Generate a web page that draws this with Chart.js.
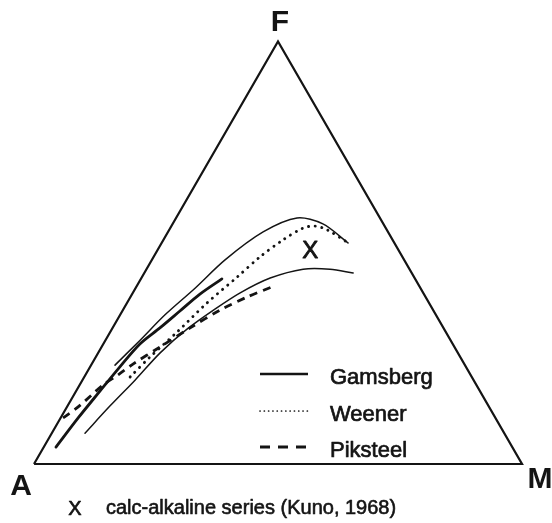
<!DOCTYPE html>
<html>
<head>
<meta charset="utf-8">
<script src="https://cdn.jsdelivr.net/npm/chart.js@4/dist/chart.umd.min.js"></script>
<style>
  html, body { margin: 0; padding: 0; background: #fff; }
  #afm { display: block; }
</style>
</head>
<body>
<canvas id="afm" width="552" height="523"></canvas>
<script>
// AFM ternary diagram: values are F and M percent (A = 100 - F - M)
const vertexLabels = ['A', 'F', 'M'];
const seriesNames = ['Gamsberg', 'Weener', 'Piksteel'];
const kunoNote = 'calc-alkaline series (Kuno, 1968)';

const gamsbergF = [4.0, 10.9, 17.3, 23.0, 28.4, 32.2, 36.2, 40.2, 43.8];
const gamsbergM = [2.5, 3.6, 4.9, 6.1, 7.5, 9.7, 11.8, 13.9, 16.6];

const weenerF = [20.6, 25.3, 31.2, 38.1, 44.2, 49.0, 53.0, 55.8, 56.3, 55.4, 52.5];
const weenerM = [9.4, 11.1, 13.7, 16.4, 19.5, 21.8, 24.5, 27.2, 29.4, 32.4, 37.9];

const piksteelF = [10.9, 13.5, 18.7, 21.1, 23.7, 27.7, 32.2, 36.4, 39.5, 41.9];
const piksteelM = [0.5, 2.3, 4.8, 6.7, 8.5, 12.0, 15.9, 19.9, 23.9, 27.8];

// envelope of the calc-alkaline field
const kunoUpperF = [23.4, 29.3, 35.3, 41.6, 48.3, 54.9, 58.2, 56.8, 52.3];
const kunoUpperM = [4.9, 7.1, 9.2, 12.2, 15.0, 19.5, 24.8, 30.8, 38.2];
const kunoLowerF = [7.3, 13.7, 19.9, 26.3, 31.9, 36.7, 40.5, 44.0, 46.1, 46.1, 45.2];
const kunoLowerM = [6.8, 8.7, 10.8, 12.7, 15.4, 18.8, 22.0, 26.4, 32.1, 37.6, 42.8];

const kunoPointF = [50.4];
const kunoPointM = [31.4];

const H = Math.sqrt(3) / 2;
function toXY(fArr, mArr) {
  return fArr.map((f, i) => ({ x: mArr[i] + f / 2, y: f * H }));
}

const ink = '#141414';
const triangle = [{ x: 0, y: 0 }, { x: 100, y: 0 }, { x: 50, y: 100 * H }, { x: 0, y: 0 }];

// filled text with a thin outline, to get the heavier look of the print
function inkText(ctx, text, x, y, weight) {
  ctx.fillText(text, x, y);
  if (weight) {
    ctx.lineWidth = weight;
    ctx.strokeText(text, x, y);
  }
}

const afmLabels = {
  id: 'afmLabels',
  afterDatasetsDraw(chart) {
    const { ctx, scales: { x, y } } = chart;
    ctx.save();
    ctx.fillStyle = ink;
    ctx.strokeStyle = ink;
    ctx.lineJoin = 'round';
    ctx.textBaseline = 'middle';
    ctx.textAlign = 'center';

    // corner letters
    ctx.font = 'bold 30px "Liberation Sans", Arial, sans-serif';
    inkText(ctx, vertexLabels[0], x.getPixelForValue(0) - 13, y.getPixelForValue(0) + 23);
    inkText(ctx, vertexLabels[1], x.getPixelForValue(50) + 2, y.getPixelForValue(100 * H) - 19);
    inkText(ctx, vertexLabels[2], x.getPixelForValue(100) + 18, y.getPixelForValue(0) + 16);

    // Kuno marker
    ctx.font = '24px "Liberation Sans", Arial, sans-serif';
    toXY(kunoPointF, kunoPointM).forEach(p => {
      inkText(ctx, 'X', x.getPixelForValue(p.x), y.getPixelForValue(p.y), 0.9);
    });

    // legend samples
    const styles = [
      { dash: [], width: 2.4, cap: 'butt' },
      { dash: [0.1, 4.2], width: 1.7, cap: 'round' },
      { dash: [10, 8], width: 2.8, cap: 'butt' }
    ];
    const rows = [374, 411, 447];
    ctx.textAlign = 'left';
    ctx.font = '22px "Liberation Sans", Arial, sans-serif';
    seriesNames.forEach((name, i) => {
      ctx.beginPath();
      ctx.setLineDash(styles[i].dash);
      ctx.lineWidth = styles[i].width;
      ctx.lineCap = styles[i].cap;
      ctx.moveTo(260, rows[i]);
      ctx.lineTo(308, rows[i]);
      ctx.stroke();
      ctx.setLineDash([]);
      inkText(ctx, name, 330, rows[i] + 4, 0.7);
    });

    // footer note
    ctx.font = '20px "Liberation Sans", Arial, sans-serif';
    ctx.textAlign = 'center';
    inkText(ctx, 'X', 75, 509, 0.7);
    ctx.textAlign = 'left';
    inkText(ctx, kunoNote, 106, 508, 0.6);
    ctx.restore();
  }
};

const lineSet = (data, width, dash, cap) => ({
  data,
  showLine: true,
  borderColor: ink,
  borderWidth: width,
  borderDash: dash,
  borderCapStyle: cap,
  pointRadius: 0,
  tension: 0.3,
  fill: false
});

new Chart(document.getElementById('afm'), {
  type: 'scatter',
  data: {
    datasets: [
      { ...lineSet(triangle, 2.2, [], 'butt'), tension: 0 },
      lineSet(toXY(kunoUpperF, kunoUpperM), 1.5, [], 'round'),
      lineSet(toXY(kunoLowerF, kunoLowerM), 1.5, [], 'round'),
      lineSet(toXY(gamsbergF, gamsbergM), 2.8, [], 'round'),
      lineSet(toXY(weenerF, weenerM), 2.9, [0.1, 6.6], 'round'),
      lineSet(toXY(piksteelF, piksteelM), 2.8, [8, 6], 'butt')
    ]
  },
  options: {
    responsive: false,
    animation: false,
    devicePixelRatio: 1,
    layout: { padding: 0 },
    plugins: {
      legend: { display: false },
      tooltip: { enabled: false }
    },
    scales: {
      x: { type: 'linear', display: false, min: -6.967, max: 106.148 },
      y: { type: 'linear', display: false, min: -12.09, max: 95.08 }
    }
  },
  plugins: [afmLabels]
});
</script>
</body>
</html>
